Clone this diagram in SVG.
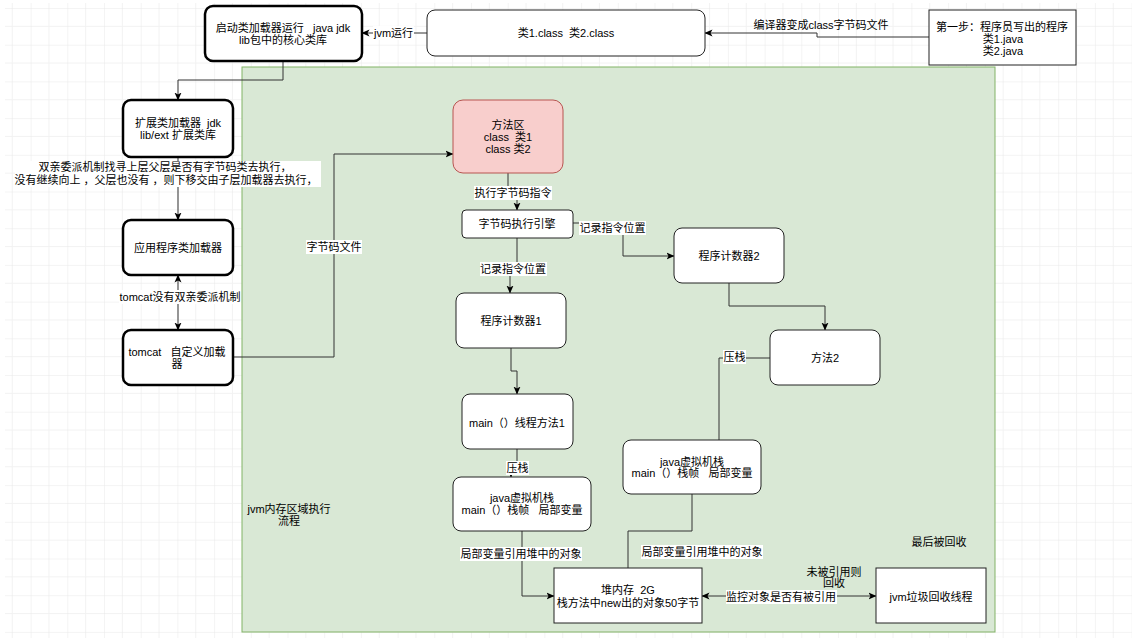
<svg xmlns="http://www.w3.org/2000/svg" width="1132" height="638" viewBox="0 0 1132 638">
<defs>
<style>
.t{font-family:"Liberation Sans","Noto Sans CJK SC",sans-serif;font-size:11px;fill:#000;text-anchor:middle;dominant-baseline:central;white-space:pre}
.thick{fill:#fff;stroke:#000;stroke-width:2.5}
.thin{fill:#fff;stroke:#222;stroke-width:1}
.edge{fill:none;stroke:#333;stroke-width:1}
.bg{fill:#fff}
</style>
<marker id="arr" viewBox="0 0 8 8" refX="7.5" refY="4" markerWidth="8" markerHeight="8" markerUnits="userSpaceOnUse" orient="auto-start-reverse">
<path d="M0,0.5 L8,4 L0,7.5 L2,4 Z" fill="#000"/>
</marker>
<pattern id="grid" x="30.6" y="8" width="36.7" height="36.7" patternUnits="userSpaceOnUse">
<path d="M18.35,0 V36.7 M0,18.35 H36.7" stroke="#f2f2f2" stroke-width="1" fill="none"/>
<path d="M0,0 V36.7 M0,0 H36.7" stroke="#e9e9e9" stroke-width="1" fill="none"/>
</pattern>
</defs>
<rect x="0" y="0" width="1132" height="638" fill="#fff"/>
<rect x="5" y="3" width="1127" height="635" fill="url(#grid)"/>

<g id="container">
<rect x="242" y="67" width="753" height="565" fill="#d9e8d5" stroke="#82b366" stroke-width="1"/>
<text class="t" x="289" y="509">jvm内存区域执行</text>
<text class="t" x="289" y="521">流程</text>
</g>

<g id="connectors">
<path class="edge" d="M427,33 H362" marker-end="url(#arr)"/>
<rect class="bg" x="373" y="26" width="41" height="14"/>
<text class="t" x="393.5" y="33">jvm运行</text>

<path class="edge" d="M929,37 H817 V33 H705" marker-end="url(#arr)"/>
<text class="t" x="821" y="25">编译器变成class字节码文件</text>

<path class="edge" d="M283,61 V80 H178 V100" marker-end="url(#arr)"/>

<path class="edge" d="M178,157 V220" marker-end="url(#arr)"/>
<rect class="bg" x="15" y="161" width="306" height="26"/>
<text class="t" x="165" y="167">双亲委派机制找寻上层父层是否有字节码类去执行，</text>
<text class="t" x="166" y="180">没有继续向上 ，父层也没有 ，则下移交由子层加载器去执行，</text>

<path class="edge" d="M178,275 V330" marker-start="url(#arr)" marker-end="url(#arr)"/>
<rect class="bg" x="119" y="290" width="122" height="14"/>
<text class="t" x="180" y="297">tomcat没有双亲委派机制</text>

<path class="edge" d="M233,357 H334 V154 H453" marker-end="url(#arr)"/>
<rect class="bg" x="306" y="240" width="56" height="14"/>
<text class="t" x="334" y="247">字节码文件</text>

<path class="edge" d="M508,173 V193 H517 V210" marker-end="url(#arr)"/>
<rect class="bg" x="474" y="186" width="78" height="14"/>
<text class="t" x="513" y="193">执行字节码指令</text>

<path class="edge" d="M573,223 H623 V256 H674" marker-end="url(#arr)"/>
<rect class="bg" x="579" y="221" width="67" height="14"/>
<text class="t" x="612.5" y="228">记录指令位置</text>

<path class="edge" d="M517,238 V268 H510 V293" marker-end="url(#arr)"/>
<rect class="bg" x="480" y="262" width="67" height="14"/>
<text class="t" x="513" y="269">记录指令位置</text>

<path class="edge" d="M729,283 V306 H825 V330" marker-end="url(#arr)"/>

<path class="edge" d="M511,348 V371 H517 V394" marker-end="url(#arr)"/>

<path class="edge" d="M517,449 V469 H511 V477" marker-end="url(#arr)"/>
<rect class="bg" x="506" y="461" width="23" height="14"/>
<text class="t" x="517.5" y="468">压栈</text>

<path class="edge" d="M770,358 H719 V440"/>
<rect class="bg" x="723" y="350" width="23" height="14"/>
<text class="t" x="734.5" y="357">压栈</text>

<path class="edge" d="M522,531 V596 H554" marker-end="url(#arr)"/>
<rect class="bg" x="460" y="547" width="122" height="14"/>
<text class="t" x="521" y="554">局部变量引用堆中的对象</text>

<path class="edge" d="M692,494 V531 H628 V568"/>
<rect class="bg" x="641" y="545" width="122" height="14"/>
<text class="t" x="702" y="552">局部变量引用堆中的对象</text>

<path class="edge" d="M702,596 H876" marker-start="url(#arr)" marker-end="url(#arr)"/>
<rect class="bg" x="726" y="590" width="111" height="14"/>
<text class="t" x="781" y="597">监控对象是否有被引用</text>
</g>

<g id="n_boot">
<rect class="thick" x="205" y="6" width="157" height="55" rx="8"/>
<text class="t" x="283" y="28">启动类加载器运行   java jdk</text>
<text class="t" x="283" y="40">lib包中的核心类库</text>
</g>
<g id="n_class">
<rect class="thin" x="427" y="10" width="278" height="46" rx="8" stroke="#555"/>
<text class="t" x="566" y="33">类1.class  类2.class</text>
</g>
<g id="n_step">
<rect class="thin" x="929" y="10" width="147" height="55" stroke="#555"/>
<text class="t" x="1002" y="27">第一步：程序员写出的程序</text>
<text class="t" x="1003" y="39">类1.java</text>
<text class="t" x="1003" y="51">类2.java</text>
</g>
<g id="n_ext">
<rect class="thick" x="123" y="100" width="110" height="57" rx="8"/>
<text class="t" x="178" y="123">扩展类加载器  jdk</text>
<text class="t" x="178" y="135">lib/ext 扩展类库</text>
</g>
<g id="n_app">
<rect class="thick" x="123" y="220" width="110" height="55" rx="8"/>
<text class="t" x="178" y="248">应用程序类加载器</text>
</g>
<g id="n_tomcat">
<rect class="thick" x="123" y="330" width="110" height="55" rx="8"/>
<text class="t" x="177" y="352">tomcat   自定义加载</text>
<text class="t" x="177" y="364">器</text>
</g>
<g id="n_method">
<rect x="453" y="100" width="110" height="73" rx="10" fill="#f8cecc" stroke="#b85450" stroke-width="1"/>
<text class="t" x="508" y="125">方法区</text>
<text class="t" x="508" y="137">class  类1</text>
<text class="t" x="508" y="149">class 类2</text>
</g>
<g id="n_engine">
<rect class="thin" x="462" y="210" width="111" height="28" rx="4"/>
<text class="t" x="517" y="224">字节码执行引擎</text>
</g>
<g id="n_pc2">
<rect class="thin" x="674" y="228" width="110" height="55" rx="8"/>
<text class="t" x="729" y="256">程序计数器2</text>
</g>
<g id="n_m2">
<rect class="thin" x="770" y="330" width="110" height="55" rx="8"/>
<text class="t" x="825" y="358">方法2</text>
</g>
<g id="n_pc1">
<rect class="thin" x="456" y="293" width="110" height="55" rx="8"/>
<text class="t" x="511" y="321">程序计数器1</text>
</g>
<g id="n_main">
<rect class="thin" x="462" y="394" width="111" height="55" rx="8"/>
<text class="t" x="517" y="423">main（）线程方法1</text>
</g>
<g id="n_stack1">
<rect class="thin" x="453" y="477" width="138" height="54" rx="8"/>
<text class="t" x="522" y="498">java虚拟机栈</text>
<text class="t" x="522" y="510">main（）栈帧   局部变量</text>
</g>
<g id="n_stack2">
<rect class="thin" x="623" y="440" width="138" height="54" rx="8"/>
<text class="t" x="692" y="462">java虚拟机栈</text>
<text class="t" x="692" y="473">main（）栈帧   局部变量</text>
</g>
<g id="n_heap">
<rect class="thin" x="554" y="568" width="148" height="55"/>
<text class="t" x="628" y="590">堆内存  2G</text>
<text class="t" x="628" y="603">栈方法中new出的对象50字节</text>
</g>
<g id="n_gc">
<rect class="thin" x="876" y="568" width="110" height="55"/>
<text class="t" x="931" y="597">jvm垃圾回收线程</text>
</g>
<g id="free_text">
<text class="t" x="939" y="542">最后被回收</text>
<text class="t" x="834" y="572">未被引用则</text>
<text class="t" x="834" y="583">回收</text>
</g>
</svg>
